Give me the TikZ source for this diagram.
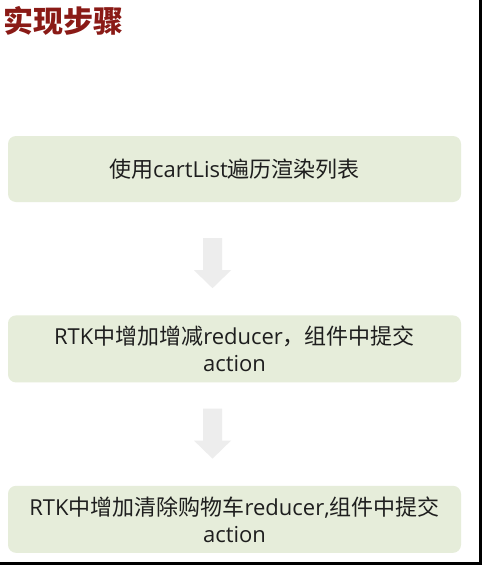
\documentclass[tikz,border=0pt]{standalone}
\usepackage{fontspec}
\setmainfont{Open Sans}
\newfontfamily\zhfont{Noto Sans CJK SC}
\newcommand\zh[1]{{\zhfont #1}}
\usepackage{tikz}
\usetikzlibrary{positioning, calc}

\definecolor{titlered}{HTML}{8A1A16}
\definecolor{stepfill}{HTML}{E6EDDA}
\definecolor{steptext}{HTML}{1E1E1E}
\definecolor{arrowfill}{HTML}{EDEDED}

\begin{document}
\begin{tikzpicture}[x=1pt, y=-1pt]
            \useasboundingbox (0,0) rectangle (482,565);
            \fill[white] (0,0) rectangle (482,565);
            \node[anchor=base west, inner sep=0, text=titlered, font=\zhfont\bfseries\fontsize{30}{36}\selectfont] (title) at (3,32) {实现步骤};
            \node[rectangle, rounded corners=8pt, fill=stepfill, text=steptext, minimum width=453pt, minimum height=66pt, align=center, font=\fontsize{22}{27}\selectfont] (list) at (234.5,169) {\zh{使用}cartList\zh{遍历渲染列表}};
            \node[rectangle, rounded corners=8pt, fill=stepfill, text=steptext, minimum width=453pt, minimum height=67pt, align=center, font=\fontsize{22}{27}\selectfont, below=113pt of list] (change) {RTK\zh{中增加增减}reducer\zh{，组件中提交}\\action};
            \node[rectangle, rounded corners=8pt, fill=stepfill, text=steptext, minimum width=453pt, minimum height=67pt, align=center, font=\fontsize{22}{27}\selectfont, below=103pt of change] (clear) {RTK\zh{中增加清除购物车}reducer,\zh{组件中提交}\\action};
            % down arrows between the steps
            \coordinate[below=36pt of list.south, xshift=-22pt] (arr1);
            \coordinate[below=26pt of change.south, xshift=-22pt] (arr2);
            \fill[arrowfill] (arr1) ++(-9.5,0) -- ++(19,0) -- ++(0,32) -- ++(9,0) -- ++(-18.5,18) -- ++(-18.5,-18) -- ++(9,0) -- cycle;
            \fill[arrowfill] (arr2) ++(-9.5,0) -- ++(19,0) -- ++(0,32) -- ++(9,0) -- ++(-18.5,18) -- ++(-18.5,-18) -- ++(9,0) -- cycle;
            % frame edge
            \fill[black] (479,0) rectangle (482,565);
            \fill[black] (0,562) rectangle (482,565);
        \end{tikzpicture}
\end{document}
